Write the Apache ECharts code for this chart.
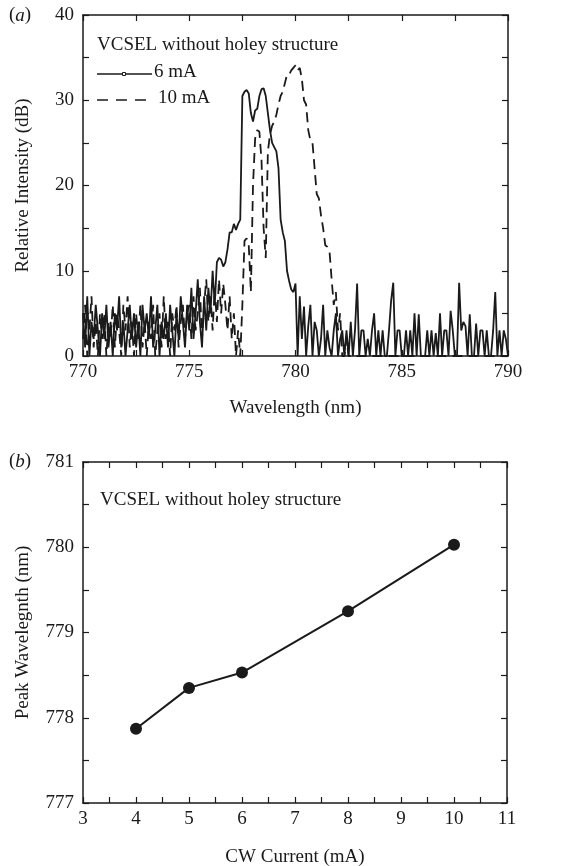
<!DOCTYPE html>
<html>
<head>
<meta charset="utf-8">
<script src="https://cdn.jsdelivr.net/npm/echarts@6/dist/echarts.min.js"></script>
<style>
  html, body { margin: 0; padding: 0; background: #fff; }
  #chart { width: 567px; height: 866px; }
</style>
</head>
<body>
<div id="chart"></div>
<script>
// (a) spectra, sampled every 0.1 nm
var wavelength = [
  770.0,770.1,770.2,770.3,770.4,770.5,770.6,770.7,770.8,770.9,
  771.0,771.1,771.2,771.3,771.4,771.5,771.6,771.7,771.8,771.9,
  772.0,772.1,772.2,772.3,772.4,772.5,772.6,772.7,772.8,772.9,
  773.0,773.1,773.2,773.3,773.4,773.5,773.6,773.7,773.8,773.9,
  774.0,774.1,774.2,774.3,774.4,774.5,774.6,774.7,774.8,774.9,
  775.0,775.1,775.2,775.3,775.4,775.5,775.6,775.7,775.8,775.9,
  776.0,776.1,776.2,776.3,776.4,776.5,776.6,776.7,776.8,776.9,
  777.0,777.1,777.2,777.3,777.4,777.5,777.6,777.7,777.8,777.9,
  778.0,778.1,778.2,778.3,778.4,778.5,778.6,778.7,778.8,778.9,
  779.0,779.1,779.2,779.3,779.4,779.5,779.6,779.7,779.8,779.9,
  780.0,780.1,780.2,780.3,780.4,780.5,780.6,780.7,780.8,780.9,
  781.0,781.1,781.2,781.3,781.4,781.5,781.6,781.7,781.8,781.9,
  782.0,782.1,782.2,782.3,782.4,782.5,782.6,782.7,782.8,782.9,
  783.0,783.1,783.2,783.3,783.4,783.5,783.6,783.7,783.8,783.9,
  784.0,784.1,784.2,784.3,784.4,784.5,784.6,784.7,784.8,784.9,
  785.0,785.1,785.2,785.3,785.4,785.5,785.6,785.7,785.8,785.9,
  786.0,786.1,786.2,786.3,786.4,786.5,786.6,786.7,786.8,786.9,
  787.0,787.1,787.2,787.3,787.4,787.5,787.6,787.7,787.8,787.9,
  788.0,788.1,788.2,788.3,788.4,788.5,788.6,788.7,788.8,788.9,
  789.0,789.1,789.2,789.3,789.4,789.5,789.6,789.7,789.8,789.9,
  790.0
];
var intensity6mA = [
  5,1,7,0,4,2,6,3,0,5,
  2,6,1,4,0,5,3,7,1,4,
  0,3,6,2,5,1,4,0,6,3,
  5,2,7,1,3,6,0,4,2,5,
  1,6,3,0,5,2,7,4,1,6,
  3,8,2,5,9,4,1,7,3,8,
  5,10,6,11,11.5,11.3,10.5,11,12.5,14.5,
  14.5,15.5,14.8,15.5,16,30.5,31,31.2,30.8,28.5,
  27.5,28.8,29,30.5,31.3,31.4,30.5,28.5,26.5,25,
  24.5,24,22,16,14.5,13.5,10,8.8,7.8,7.5,
  8.5,0,7,2,5.8,0,3.5,6,0,4,
  3,0,2,6,0,3,1,0,3,5,
  0,2,3,0,3,0,4,0,3,8.5,
  0,3,3,0,2,0,3,5,0,3,
  0,3,0,0,3,6.5,8.6,0,3,3,
  0,0,3,0,3,0,5,0,4.9,0,
  0,0,3,0,3,0,2.7,0,5,0,
  3,3,0,5.3,3,0,0,8.6,3,4,
  3.5,0,4.9,0,0,3.8,0,3,3,0,
  3,0,0,3,7.5,0,3,0,3,2,
  0
];
var intensity10mA = [
  2,6,0,3,7,1,4,0,5,2,
  5,0,4,2,6,1,5,3,0,6,
  3,7,1,4,0,5,2,6,1,4,
  0,4,2,6,0,3,5,1,7,2,
  4,0,5,3,6,1,4,6,2,5,
  6,2,7,3,5,8,2,6,9,4,
  7,3,8,4,9,5,8.5,6,3,7,
  2,5,0,3,0,6,13.5,13.8,13,7.5,
  20,25.5,26.5,26.3,23,15,11.5,24,26,27,
  27.5,28.3,29.5,30.5,31,32,33,33,33.5,33.8,
  34.1,33.5,33.8,32.5,30,29.5,26.5,25.3,25,22,
  19,18.5,16.5,15,13,12.8,12.3,9,6,7.5,
  3,5,0,0,2,0,0,0,0,0,
  0,0,0,0,0,0,0,0,0,0,
  0,0,0,0,0,0,0,0,0,0,
  0,0,0,0,0,0,0,0,0,0,
  0,0,0,0,0,0,0,0,0,0,
  0,0,0,0,0,0,0,0,0,0,
  0,0,0,0,0,0,0,0,0,0,
  0,0,0,0,0,0,0,0,0,0,
  0
];

// (b) peak wavelength vs current
var cwCurrent = [4, 5, 6, 8, 10];
var peakWavelength = [777.87, 778.35, 778.53, 779.25, 780.03];

var FONT = 'Liberation Serif';
var INK = '#1a1a1a';

function pairs(xs, ys) {
  return xs.map(function (x, i) { return [x, ys[i]]; });
}

function isMultiple(v, step) {
  var r = v / step;
  return Math.abs(r - Math.round(r)) < 1e-6;
}

// one side of a boxed axis; labels only on the main sides
function axis(gridIndex, position, min, max, interval, labelStep, extra) {
  var a = {
    type: 'value',
    gridIndex: gridIndex,
    position: position,
    min: min,
    max: max,
    interval: interval,
    splitLine: { show: false },
    axisLine: { show: true, onZero: false, lineStyle: { color: INK, width: 1.5 } },
    axisTick: { show: true, inside: true, length: 6, lineStyle: { color: INK, width: 1.2 } },
    axisLabel: {
      show: labelStep > 0,
      color: INK,
      fontFamily: FONT,
      fontSize: 19,
      margin: position === 'left' ? 9 : 7,
      showMinLabel: true,
      showMaxLabel: true,
      formatter: function (v) { return isMultiple(v, labelStep) ? String(Math.round(v)) : ''; }
    },
    nameTextStyle: { color: INK, fontFamily: FONT, fontSize: 19 }
  };
  for (var k in extra) a[k] = extra[k];
  return a;
}

var chart = echarts.init(document.getElementById('chart'));

chart.setOption({
  backgroundColor: '#fff',
  animation: false,
  grid: [
    { left: 83, right: 59, top: 15, height: 341, outerBoundsMode: 'none', containLabel: false },
    { left: 83, right: 60, top: 462, height: 341, outerBoundsMode: 'none', containLabel: false }
  ],
  xAxis: [
    axis(0, 'bottom', 770, 790, 2.5, 5, { name: 'Wavelength (nm)', nameLocation: 'middle', nameGap: 43 }),
    axis(0, 'top', 770, 790, 2.5, 0, {}),
    axis(1, 'bottom', 3, 11, 0.5, 1, { name: 'CW Current (mA)', nameLocation: 'middle', nameGap: 45 }),
    axis(1, 'top', 3, 11, 0.5, 0, {})
  ],
  yAxis: [
    axis(0, 'left', 0, 40, 5, 10, { name: 'Relative Intensity (dB)', nameLocation: 'middle', nameGap: 50 }),
    axis(0, 'right', 0, 40, 5, 0, {}),
    axis(1, 'left', 777, 781, 0.5, 1, { name: 'Peak Wavelegnth (nm)', nameLocation: 'middle', nameGap: 50 }),
    axis(1, 'right', 777, 781, 0.5, 0, {})
  ],
  series: [
    {
      name: '6 mA',
      type: 'line',
      xAxisIndex: 0,
      yAxisIndex: 0,
      data: pairs(wavelength, intensity6mA),
      showSymbol: false,
      lineStyle: { color: INK, width: 1.8 },
      z: 3
    },
    {
      name: '10 mA',
      type: 'line',
      xAxisIndex: 0,
      yAxisIndex: 0,
      data: pairs(wavelength, intensity10mA),
      showSymbol: false,
      lineStyle: { color: INK, width: 1.8, type: [10, 6] },
      z: 2
    },
    {
      name: 'Peak',
      type: 'line',
      xAxisIndex: 2,
      yAxisIndex: 2,
      data: pairs(cwCurrent, peakWavelength),
      symbol: 'circle',
      symbolSize: 12,
      itemStyle: { color: INK },
      lineStyle: { color: INK, width: 2 }
    }
  ],
  graphic: [
    { type: 'text', left: 9, top: 6, style: { text: '({i|a})', font: '19px "Liberation Serif"', fill: INK, rich: { i: { fontStyle: 'italic', fontFamily: FONT, fontSize: 19 } } } },
    { type: 'text', left: 9, top: 452, style: { text: '({i|b})', font: '19px "Liberation Serif"', fill: INK, rich: { i: { fontStyle: 'italic', fontFamily: FONT, fontSize: 19 } } } },
    { type: 'text', left: 97, top: 36, style: { text: 'VCSEL without holey structure', font: '19px "Liberation Serif"', fill: INK } },
    { type: 'line', shape: { x1: 97, y1: 74, x2: 152, y2: 74 }, style: { stroke: INK, lineWidth: 1.5 } },
    { type: 'rect', shape: { x: 122.5, y: 72.5, width: 3, height: 3 }, style: { fill: '#fff', stroke: INK, lineWidth: 1 } },
    { type: 'text', left: 154, top: 63, style: { text: '6 mA', font: '19px "Liberation Serif"', fill: INK } },
    { type: 'line', shape: { x1: 97, y1: 100, x2: 152, y2: 100 }, style: { stroke: INK, lineWidth: 1.5, lineDash: [11, 8] } },
    { type: 'text', left: 158, top: 89, style: { text: '10 mA', font: '19px "Liberation Serif"', fill: INK } },
    { type: 'text', left: 100, top: 491, style: { text: 'VCSEL without holey structure', font: '19px "Liberation Serif"', fill: INK } }
  ]
});
</script>
</body>
</html>
